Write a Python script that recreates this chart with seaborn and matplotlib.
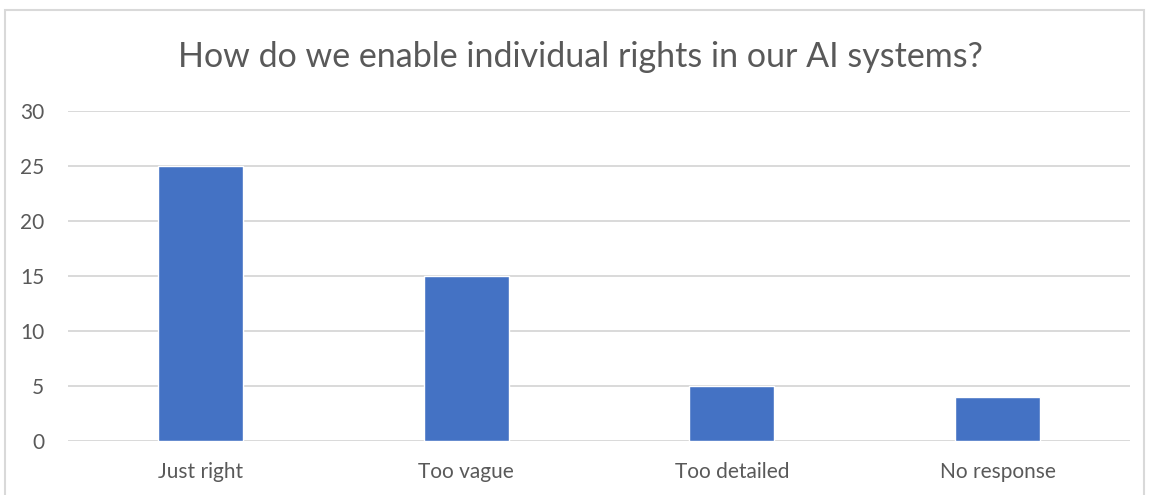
import matplotlib
matplotlib.use("Agg")
import matplotlib.pyplot as plt
import seaborn as sns
import pandas as pd
from matplotlib.patches import Rectangle

categories = ["Just right", "Too vague", "Too detailed", "No response"]
responses = [25, 15, 5, 4]
y_ticks = [0, 5, 10, 15, 20, 25, 30]

sns.set_theme(style="white")
plt.rcParams["font.family"] = ["Lato", "DejaVu Sans"]

df = pd.DataFrame({"category": categories, "responses": responses})

fig = plt.figure(figsize=(11.5, 4.95), dpi=100)
ax = fig.add_axes([0.059, 0.109, 0.924, 0.667])

sns.barplot(data=df, x="category", y="responses", color="#4472C4",
            saturation=1, width=0.32, ax=ax, zorder=3)

ax.set_ylim(0, 30)
ax.set_yticks(y_ticks)
ax.set_xlim(-0.5, len(categories) - 0.5)
ax.yaxis.grid(True, color="#d9d9d9", linewidth=1.4, zorder=0)
ax.xaxis.grid(False)
for s in ax.spines.values():
    s.set_visible(False)
ax.tick_params(axis="y", length=0, pad=17, labelsize=15, labelcolor="#595959")
ax.tick_params(axis="x", length=0, pad=15, labelsize=15, labelcolor="#595959")
ax.set_xlabel("")
ax.set_ylabel("")

fig.text(0.505, 0.885, "How do we enable individual rights in our AI systems?",
         ha="center", va="center", fontsize=24.5, color="#595959")

# chart frame
fig.patches.append(Rectangle((0.0045, -0.05), 0.99, 1.03, transform=fig.transFigure,
                             fill=False, edgecolor="#d9d9d9", linewidth=1.5))

fig.savefig("out.png", dpi=100)
